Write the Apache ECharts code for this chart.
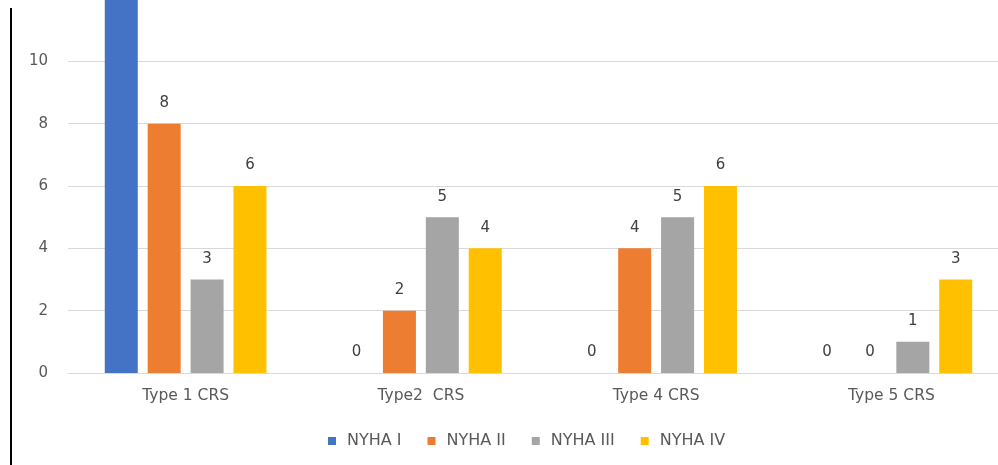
<!DOCTYPE html>
<html>
<head>
<meta charset="utf-8">
<script src="https://cdn.jsdelivr.net/npm/echarts@6/dist/echarts.min.js"></script>
<style>html,body{margin:0;padding:0;background:#fff;overflow:hidden;width:998px;height:465px;position:relative;}#c{position:absolute;left:0;top:-3px;width:1009px;height:468px;}</style>
</head>
<body>
<div id="c"></div>
<script>
const categories = ['Type 1 CRS', 'Type2  CRS', 'Type 4 CRS', 'Type 5 CRS'];
const seriesNames = ['NYHA I', 'NYHA II', 'NYHA III', 'NYHA IV'];
const nyha1 = [12, 0, 0, 0];
const nyha2 = [8, 2, 4, 0];
const nyha3 = [3, 5, 5, 1];
const nyha4 = [6, 4, 6, 3];
const yTicks = [0, 2, 4, 6, 8, 10];
const colors = ['#4472C4', '#ED7D31', '#A5A5A5', '#FFC000'];

const values = [nyha1, nyha2, nyha3, nyha4];
const font = 'DejaVu Sans, sans-serif';
const chart = echarts.init(document.getElementById('c'));
chart.setOption({
  animation: false,
  color: colors,
  grid: { left: 68, right: 0, top: 2, height: 374, containLabel: false },
  legend: {
    data: seriesNames,
    top: 431,
    left: 323,
    itemWidth: 8, itemHeight: 8, itemGap: 26,
    icon: 'rect',
    textStyle: { color: '#595959', fontSize: 16, fontFamily: font, padding: [0, 0, 0, 6] }
  },
  xAxis: {
    type: 'category',
    data: categories,
    axisLine: { show: true, lineStyle: { color: '#d9d9d9' } },
    axisTick: { show: false },
    axisLabel: { color: '#595959', fontSize: 15.5, fontFamily: font, margin: 15 }
  },
  yAxis: {
    type: 'value',
    min: 0, max: 12, interval: 2,
    axisLine: { show: false },
    axisTick: { show: false },
    splitLine: { lineStyle: { color: '#d9d9d9' } },
    axisLabel: {
      color: '#595959', fontSize: 15, fontFamily: font, margin: 20,
      formatter: function (v) { return yTicks.indexOf(v) >= 0 ? String(v) : ''; }
    }
  },
  graphic: [{
    type: 'line', shape: { x1: 11, y1: 11, x2: 11, y2: 468 },
    style: { stroke: '#000', lineWidth: 2 }
  }],
  series: seriesNames.map((n, i) => ({
    name: n, type: 'bar', data: values[i],
    barWidth: 33, barGap: '30%',
    label: { show: true, position: 'top', distance: 13, color: '#404040', fontSize: 15, fontFamily: font }
  }))
});
</script>
</body>
</html>
